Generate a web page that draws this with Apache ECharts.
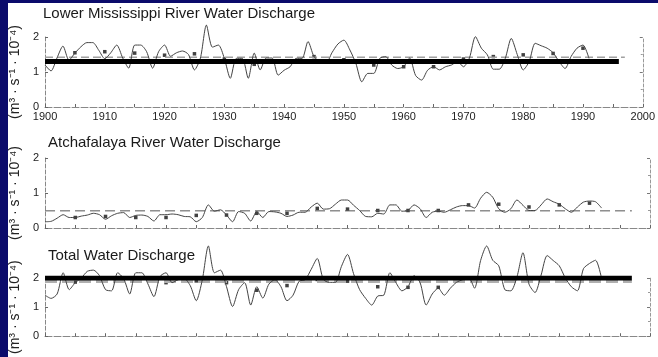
<!DOCTYPE html>
<html>
<head>
<meta charset="utf-8">
<title>Lower Mississippi / Atchafalaya water discharge</title>
<script src="https://cdn.jsdelivr.net/npm/echarts@6/dist/echarts.min.js"></script>
<style>
  html, body { margin: 0; padding: 0; background: #fff; }
  #chart { width: 658px; height: 357px; }
</style>
</head>
<body>
<div id="chart"></div>
<script>
// annual water discharge (m3 s-1 x 10^-4)
var years = [
    1900, 1901, 1902, 1903, 1904, 1905, 1906, 1907, 1908, 1909,
    1910, 1911, 1912, 1913, 1914, 1915, 1916, 1917, 1918, 1919,
    1920, 1921, 1922, 1923, 1924, 1925, 1926, 1927, 1928, 1929,
    1930, 1931, 1932, 1933, 1934, 1935, 1936, 1937, 1938, 1939,
    1940, 1941, 1942, 1943, 1944, 1945, 1946, 1947, 1948, 1949,
    1950, 1951, 1952, 1953, 1954, 1955, 1956, 1957, 1958, 1959,
    1960, 1961, 1962, 1963, 1964, 1965, 1966, 1967, 1968, 1969,
    1970, 1971, 1972, 1973, 1974, 1975, 1976, 1977, 1978, 1979,
    1980, 1981, 1982, 1983, 1984, 1985, 1986, 1987, 1988, 1989,
    1990, 1991, 1992
];

var lowerMississippi = [
    1.20, 1.03, 1.40, 1.74, 1.34, 1.54, 1.72, 1.84, 1.84, 1.62,
    1.38, 1.55, 1.77, 1.40, 1.11, 1.77, 1.77, 1.58, 1.11, 1.58,
    1.77, 1.45, 1.55, 1.60, 1.50, 1.06, 1.40, 2.34, 1.71, 1.77,
    1.39, 0.82, 1.39, 1.39, 0.82, 1.54, 1.06, 1.40, 1.40, 0.91,
    1.05, 1.15, 1.39, 1.39, 1.87, 1.44, 1.30, 1.25, 1.55, 1.80,
    1.91, 1.63, 1.25, 0.72, 0.96, 0.96, 1.39, 1.44, 1.20, 1.10,
    1.15, 1.40, 0.90, 0.77, 1.05, 1.15, 1.06, 1.15, 1.20, 1.30,
    1.15, 1.40, 2.01, 1.68, 1.49, 1.08, 1.08, 1.39, 1.96, 1.50,
    1.06, 1.30, 1.82, 1.75, 1.68, 1.55, 1.30, 1.10, 1.44, 1.68,
    1.77, 1.39
];

var atchafalaya = [
    0.18, 0.19, 0.28, 0.38, 0.30, 0.30, 0.34, 0.37, 0.42, 0.38,
    0.25, 0.35, 0.42, 0.44, 0.30, 0.36, 0.37, 0.33, 0.20, 0.38,
    0.38, 0.40, 0.38, 0.33, 0.32, 0.18, 0.30, 0.66, 0.48, 0.52,
    0.37, 0.18, 0.47, 0.42, 0.20, 0.47, 0.30, 0.47, 0.46, 0.42,
    0.33, 0.37, 0.45, 0.45, 0.60, 0.71, 0.54, 0.55, 0.68, 0.80,
    0.80, 0.65, 0.50, 0.33, 0.32, 0.42, 0.40, 0.66, 0.66, 0.48,
    0.50, 0.66, 0.55, 0.30, 0.45, 0.48, 0.45, 0.52, 0.60, 0.64,
    0.64, 0.57, 0.85, 1.02, 0.88, 0.55, 0.45, 0.55, 0.80, 0.65,
    0.50, 0.50, 0.66, 0.83, 0.75, 0.68, 0.55, 0.45, 0.60, 0.74,
    0.77, 0.75, 0.57
];

var totalDischarge = [
    1.41, 1.30, 1.45, 2.18, 1.60, 1.84, 2.00, 2.23, 2.27, 2.08,
    1.60, 1.56, 2.18, 1.98, 1.45, 2.18, 2.18, 1.80, 1.36, 2.05,
    2.18, 1.84, 1.94, 1.98, 1.74, 1.22, 1.94, 3.10, 2.18, 2.27,
    1.70, 1.02, 1.60, 1.84, 1.07, 1.70, 1.31, 1.79, 1.94, 1.70,
    1.22, 1.41, 1.89, 1.94, 2.30, 2.67, 1.95, 1.85, 1.85, 2.40,
    2.81, 2.15, 1.60, 1.30, 1.07, 1.38, 1.41, 2.18, 1.84, 1.56,
    1.70, 2.08, 1.84, 1.07, 1.45, 1.65, 1.41, 1.65, 1.85, 1.94,
    2.03, 1.65, 2.60, 3.10, 2.61, 2.42, 1.60, 1.56, 2.03, 2.87,
    1.79, 1.50, 2.10, 2.77, 2.60, 2.42, 2.00, 1.70, 1.56, 2.32,
    2.50, 2.61, 1.98
];

// 5-year means (dots)
var meanYears = [1905, 1910, 1915, 1920, 1925, 1930, 1935, 1940, 1945,
                 1950, 1955, 1960, 1965, 1970, 1975, 1980, 1985, 1990];
var lowerMississippiMeans = [1.55, 1.58, 1.54, 1.48, 1.52, 1.37, 1.22, 1.30, 1.44,
                             1.35, 1.20, 1.15, 1.15, 1.37, 1.44, 1.49, 1.53, 1.68];
var atchafalayaMeans = [0.30, 0.33, 0.30, 0.30, 0.36, 0.37, 0.42, 0.42, 0.56,
                        0.54, 0.50, 0.50, 0.50, 0.66, 0.68, 0.60, 0.66, 0.71];
var totalMeans = [1.86, 1.90, 1.92, 1.84, 1.90, 1.84, 1.58, 1.74, 1.95,
                  1.89, 1.70, 1.68, 1.68, 2.00, 2.13, 2.08, 2.13, 2.37];

// long-term average (dashed) and the heavy reference bar, per panel
var longTermMean = [1.42, 0.49, 1.88];
var meanEndYear = 1997;
var barLevel = [1.30, null, 2.00];
var barEndYear = [1996, null, 1997];

var titles = [
    "Lower Mississippi River Water Discharge",
    "Atchafalaya River Water Discharge",
    "Total Water Discharge"
];
var unitLabel = "(m\u00b3 \u00b7 s\u207b\u00b9 \u00b7 10\u207b\u2074)";

var font = '"Liberation Sans", Arial, Helvetica, sans-serif';

function pairs(xs, ys) {
    var out = [];
    for (var i = 0; i < ys.length; i++) {
        out.push([xs[i], ys[i]]);
    }
    return out;
}

var chart = echarts.init(document.getElementById("chart"));

var gridBoxes = [
    {left: 45, right: 8, top: 37, bottom: 250},
    {left: 45, right: 8, top: 158, bottom: 129},
    {left: 45, right: 8, top: 278, bottom: 10}
];
var titlePos = [
    {left: 43, top: 6},
    {left: 48, top: 135},
    {left: 48, top: 248}
];
// the dashed average is drawn a little differently in each panel of the scan
var meanStyle = [
    {color: "#a0a0a0", width: 1.5, type: [8, 4]},
    {color: "#555", width: 1, type: [10, 5]},
    {color: "#b0b0b0", width: 3, type: [12, 5]}
];
var panelData = [lowerMississippi, atchafalaya, totalDischarge];
var panelMeans = [lowerMississippiMeans, atchafalayaMeans, totalMeans];

var option = {
    animation: false,
    backgroundColor: "#fff",
    textStyle: {fontFamily: font},
    title: [],
    grid: [],
    xAxis: [],
    yAxis: [],
    series: [],
    graphic: [
        {type: "rect", left: 0, top: 0, shape: {width: 8, height: 357}, style: {fill: "#0b0b6b"}},
        {type: "rect", left: 0, top: 0, shape: {width: 658, height: 3}, style: {fill: "#0b0b6b"}}
    ]
};

for (var p = 0; p < 3; p++) {
    option.title.push({
        text: titles[p],
        left: titlePos[p].left,
        top: titlePos[p].top,
        padding: 0,
        textStyle: {fontFamily: font, fontSize: 15, fontWeight: "normal", color: "#1a1a1a"}
    });
    option.grid.push(gridBoxes[p]);

    option.xAxis.push({
        type: "value",
        gridIndex: p,
        min: 1900,
        max: 2000,
        interval: 10,
        axisLine: {lineStyle: {color: "#888", width: 1, type: [7, 2]}},
        axisTick: {show: true, inside: true, length: 3, lineStyle: {color: "#666"}},
        minorTick: {show: true, splitNumber: 2, length: 3, lineStyle: {color: "#666"}},
        splitLine: {show: false},
        axisLabel: {
            show: p === 0,
            color: "#222",
            fontSize: 11,
            fontFamily: font,
            margin: 4,
            formatter: function (v) { return String(v); }
        }
    });

    // left value axis
    option.yAxis.push({
        type: "value",
        gridIndex: p,
        position: "left",
        min: 0,
        max: 2,
        interval: 1,
        name: unitLabel,
        nameLocation: "middle",
        nameGap: 22,
        nameTextStyle: {fontFamily: font, fontSize: 14, color: "#222"},
        axisLine: {show: true, lineStyle: {color: "#888", type: [4, 2]}},
        axisTick: {show: true, inside: true, length: 3, lineStyle: {color: "#666"}},
        axisLabel: {color: "#222", fontSize: 11, fontFamily: font, margin: 6},
        splitLine: {show: false}
    });
    // right stub axis
    option.yAxis.push({
        type: "value",
        gridIndex: p,
        position: "right",
        min: 0,
        max: 2,
        interval: 1,
        axisLine: {show: true, lineStyle: {color: "#999", type: [3, 2]}},
        axisTick: {show: true, inside: true, length: 3, lineStyle: {color: "#777"}},
        minorTick: {show: true, splitNumber: 2, length: 2, lineStyle: {color: "#999"}},
        axisLabel: {show: false},
        splitLine: {show: false}
    });

    var yIdx = p * 2;

    option.series.push({
        type: "line",
        xAxisIndex: p,
        yAxisIndex: yIdx,
        data: [[1900, longTermMean[p]], [meanEndYear, longTermMean[p]]],
        symbol: "none",
        silent: true,
        lineStyle: meanStyle[p]
    });
    option.series.push({
        type: "line",
        xAxisIndex: p,
        yAxisIndex: yIdx,
        data: pairs(years, panelData[p]),
        symbol: "none",
        smooth: 0.25,
        clip: false,
        lineStyle: {color: "#444", width: 1}
    });
    option.series.push({
        type: "scatter",
        xAxisIndex: p,
        yAxisIndex: yIdx,
        data: pairs(meanYears, panelMeans[p]),
        symbol: "rect",
        symbolSize: 3.5,
        itemStyle: {color: "#111"}
    });
    if (barLevel[p] !== null) {
        option.series.push({
            type: "line",
            xAxisIndex: p,
            yAxisIndex: yIdx,
            data: [[1900, barLevel[p]], [barEndYear[p], barLevel[p]]],
            symbol: "none",
            silent: true,
            z: 5,
            lineStyle: {color: "#000", width: 5, cap: "butt"}
        });
    }
}

chart.setOption(option);
</script>
</body>
</html>
